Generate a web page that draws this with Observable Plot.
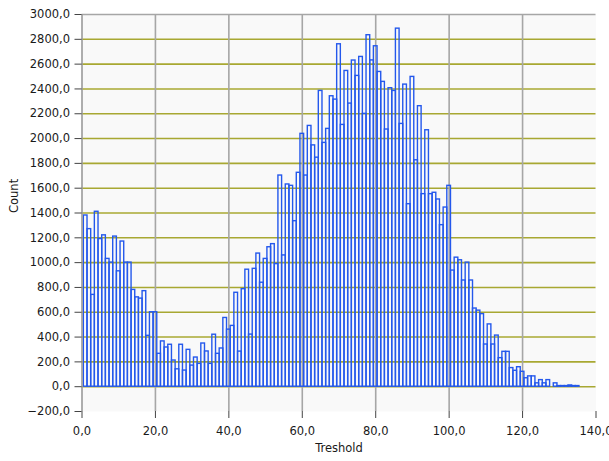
<!DOCTYPE html>
<html>
<head>
<meta charset="utf-8">
<script src="https://cdn.jsdelivr.net/npm/d3@7"></script>
<script src="https://cdn.jsdelivr.net/npm/@observablehq/plot@0.6"></script>
<style>
  html, body { margin: 0; padding: 0; background: #ffffff; }
  #chart svg { display: block; }
</style>
</head>
<body>
<div id="chart"></div>
<script>
// Histogram of counts per threshold bin (bins 1..135, width 1)
const counts = [
  1380, 1270, 740, 1410, 1190, 1220, 1030, 1000, 1210, 930,
  1170, 1000, 1000, 780, 720, 710, 770, 410, 600, 600,
  265, 365, 316, 338, 211, 140, 338, 130, 297, 170,
  235, 184, 348, 284, 184, 419, 265, 308, 554, 460,
  490, 757, 283, 786, 943, 420, 950, 1073, 838, 1030,
  1124, 1149, 988, 1702, 1058, 1630, 1619, 1334, 1724, 2038,
  1702, 2102, 1945, 1846, 2384, 1965, 2078, 2341, 2314, 2760,
  2110, 2545, 2282, 2629, 2505, 2658, 2199, 2833, 2630, 2744,
  2537, 2457, 2073, 2406, 2384, 2886, 2118, 2435, 1471, 2497,
  1825, 2261, 1552, 2067, 1552, 1563, 1509, 1302, 1444, 1619,
  936, 1040, 1019, 856, 1000, 856, 630, 613, 585, 340,
  502, 340, 412, 230, 281, 281, 150, 128, 157, 120,
  68, 83, 83, 27, 53, 27, 53, 0, 27, 5,
  5, 5, 10, 5, 5
];
const bins = counts.map((c, i) => ({threshold: i + 1, count: c}));

const xTicks = [0, 20, 40, 60, 80, 100, 120, 140];
const yTicks = [-200, 0, 200, 400, 600, 800, 1000, 1200, 1400, 1600,
                1800, 2000, 2200, 2400, 2600, 2800, 3000];
const hGrid = yTicks.filter(v => v >= 0 && v < 3000);
const vGrid = xTicks.filter(v => v > 0 && v < 140);

const fmt = d => d3.format(".1f")(d).replace(".", ",");
const font = "'DejaVu Sans', Verdana, sans-serif";

const chart = Plot.plot({
  width: 609,
  height: 461,
  marginLeft: 81.5,
  marginRight: 13.5,
  marginTop: 14,
  marginBottom: 50,
  style: {fontFamily: font, fontSize: "11.5px", color: "#1a1a1a", background: "#ffffff"},
  x: {domain: [0, 140]},
  y: {domain: [-200, 3000]},
  marks: [
    Plot.frame({fill: "#f9f9f9", stroke: null}),
    Plot.ruleY(hGrid, {stroke: "#a8a832", strokeWidth: 1.6}),
    Plot.ruleX(vGrid, {stroke: "#a6a6a6", strokeWidth: 1.6}),
    Plot.ruleY([3000], {stroke: "#a6a6a6", strokeWidth: 1.6}),
    Plot.rect(bins, {
      x1: d => d.threshold - 0.5,
      x2: d => d.threshold + 0.5,
      y1: 0,
      y2: "count",
      fill: "none",
      stroke: "#2458ec",
      strokeWidth: 1.4
    }),
    Plot.ruleX([0], {stroke: "#9a9a9a", strokeWidth: 1.6}),
    Plot.axisY({ticks: yTicks, tickFormat: fmt, tickSize: 7, tickPadding: 5, label: null, stroke: "#444"}),
    Plot.axisX({ticks: xTicks, tickFormat: fmt, tickSize: 7, tickPadding: 8, label: null, stroke: "#444"}),
    Plot.text(["Count"], {frameAnchor: "left", dx: -68, rotate: -90, fontSize: 11.5}),
    Plot.text(["Treshold"], {frameAnchor: "bottom", dy: 40, fontSize: 11.5})
  ]
});

document.getElementById("chart").appendChild(chart);
</script>
</body>
</html>
